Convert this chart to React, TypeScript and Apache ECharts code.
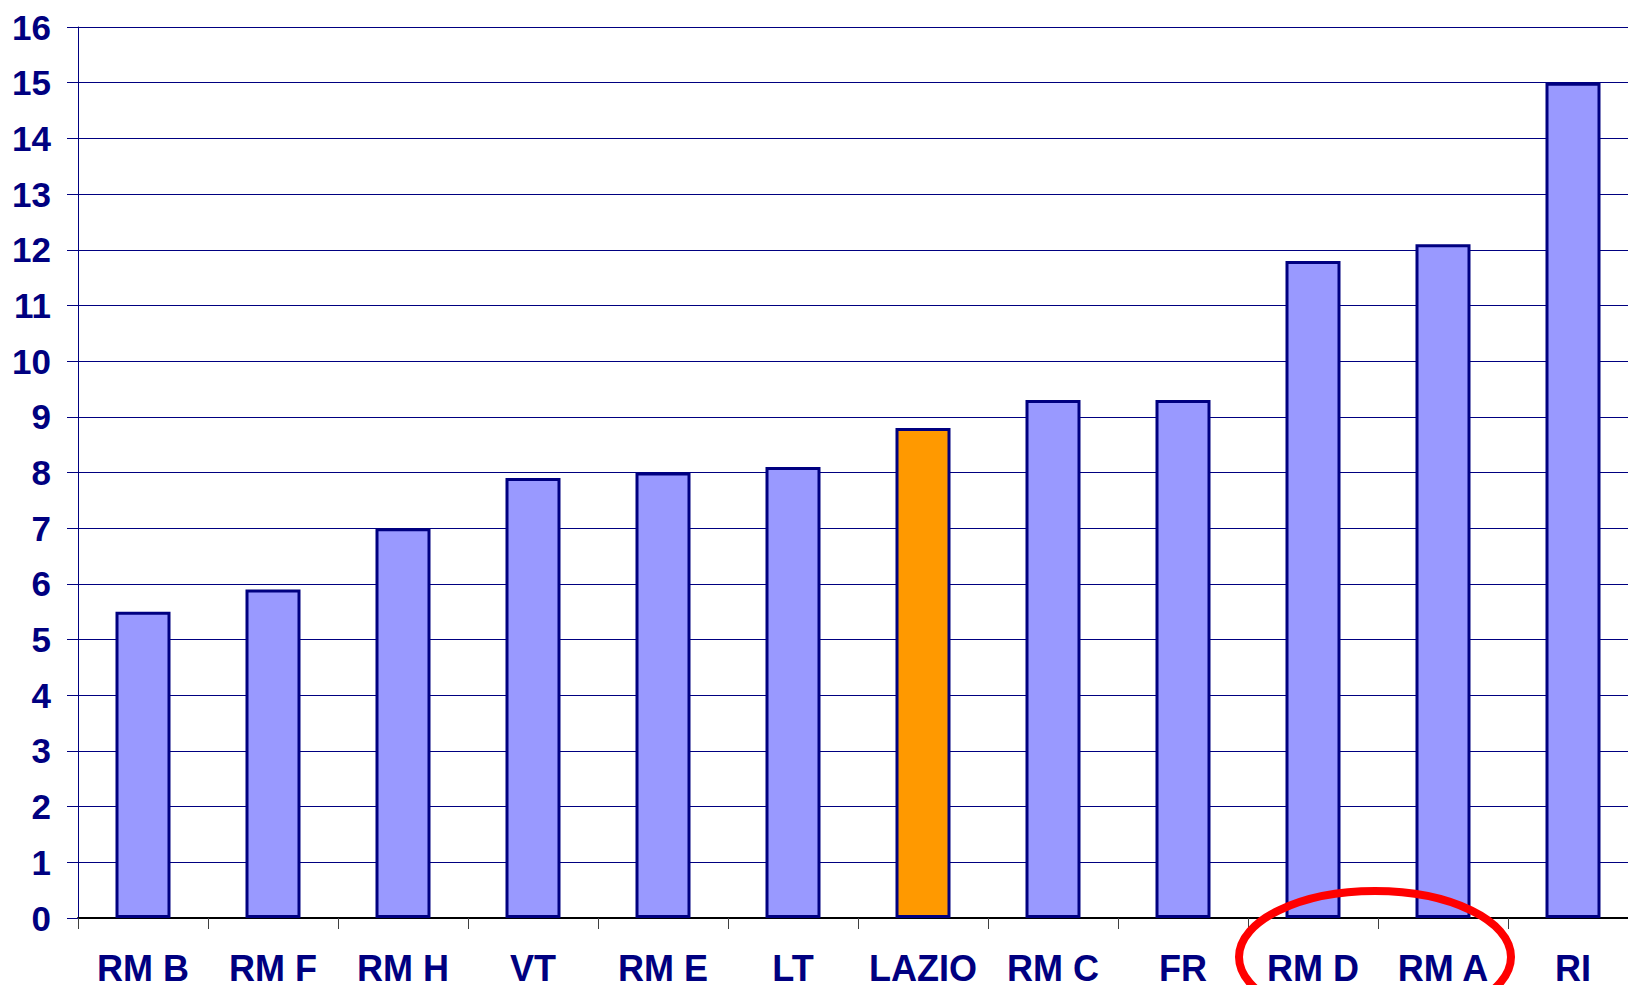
import React, { useEffect, useRef } from "react";
import * as echarts from "echarts";

const categories = ["RM B", "RM F", "RM H", "VT", "RM E", "LT", "LAZIO", "RM C", "FR", "RM D", "RM A", "RI"];
const values = [5.5, 5.9, 7.0, 7.9, 8.0, 8.1, 8.8, 9.3, 9.3, 11.8, 12.1, 15.0];
const highlighted = ["LAZIO"];
const circled = ["RM D", "RM A"];

export default function App() {
  const ref = useRef<HTMLDivElement>(null);
  useEffect(() => {
    if (!ref.current) return;
    const chart = echarts.init(ref.current, null, { renderer: "svg" });
    const font = "'Liberation Sans', Arial, sans-serif";
    const navy = "#000080";
    chart.setOption({
      animation: false,
      backgroundColor: "#ffffff",
      grid: { left: 78, top: 27, width: 1560, height: 891, containLabel: false, outerBoundsMode: "none" },
      xAxis: {
        type: "category",
        data: categories,
        axisLine: { show: true, lineStyle: { color: "#000000", width: 2 } },
        axisTick: { show: true, length: 11, lineStyle: { color: "#404040", width: 1 } },
        axisLabel: {
          margin: 32,
          color: navy,
          fontFamily: font,
          fontWeight: "bold",
          fontSize: 36,
          interval: 0,
        },
      },
      yAxis: {
        type: "value",
        min: 0,
        max: 16,
        interval: 1,
        axisLine: { show: true, lineStyle: { color: navy, width: 1 } },
        axisTick: { show: true, length: 11, lineStyle: { color: navy, width: 1 } },
        axisLabel: {
          margin: 27,
          color: navy,
          fontFamily: font,
          fontWeight: "bold",
          fontSize: 35,
        },
        splitLine: { show: true, lineStyle: { color: navy, width: 1 } },
      },
      series: [
        {
          type: "bar",
          barWidth: 55,
          data: values.map((v, i) => ({
            value: v,
            itemStyle: {
              color: highlighted.includes(categories[i]) ? "#FF9900" : "#9999FF",
              borderColor: navy,
              borderWidth: 3,
            },
          })),
        },
      ],
    });
    const p1 = chart.convertToPixel({ xAxisIndex: 0, yAxisIndex: 0 }, [circled[0], 0]) as number[];
    const p2 = chart.convertToPixel({ xAxisIndex: 0, yAxisIndex: 0 }, [circled[1], 0]) as number[];
    if (p1 && p2) {
      const cx = (p1[0] + p2[0]) / 2;
      chart.setOption({
        graphic: [
          {
            type: "ellipse",
            shape: { cx: cx - 3, cy: p1[1] + 39, rx: 136, ry: 66 },
            style: { fill: "none", stroke: "#FF0000", lineWidth: 8 },
            z: 100,
          },
        ],
      });
    }
    return () => chart.dispose();
  }, []);
  return (
    <div
      ref={ref}
      style={{ position: "fixed", left: 0, top: 0, width: 1628, height: 985 }}
    />
  );
}
